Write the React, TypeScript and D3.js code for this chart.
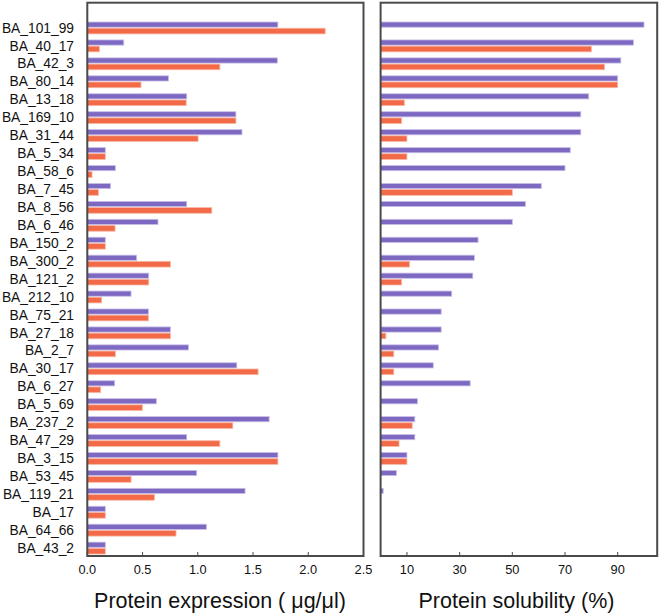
import React from "react";
import * as d3 from "d3";

const categories = [
  "BA_101_99", "BA_40_17", "BA_42_3", "BA_80_14", "BA_13_18", "BA_169_10", "BA_31_44",
  "BA_5_34", "BA_58_6", "BA_7_45", "BA_8_56", "BA_6_46", "BA_150_2", "BA_300_2",
  "BA_121_2", "BA_212_10", "BA_75_21", "BA_27_18", "BA_2_7", "BA_30_17", "BA_6_27",
  "BA_5_69", "BA_237_2", "BA_47_29", "BA_3_15", "BA_53_45", "BA_119_21", "BA_17",
  "BA_64_66", "BA_43_2",
];

// Protein expression (µg/µl)
const expressionPurple = [
  1.725, 0.33, 1.72, 0.735, 0.9, 1.345, 1.4, 0.163, 0.254, 0.21, 0.9, 0.64, 0.163, 0.447,
  0.556, 0.396, 0.553, 0.752, 0.915, 1.353, 0.248, 0.625, 1.646, 0.9, 1.725, 0.99, 1.428,
  0.163, 1.078, 0.163,
];
const expressionOrange = [
  2.153, 0.109, 1.2, 0.486, 0.895, 1.345, 1.003, 0.163, 0.043, 0.1, 1.127, 0.251, 0.163, 0.752,
  0.556, 0.13, 0.553, 0.752, 0.254, 1.546, 0.121, 0.498, 1.317, 1.2, 1.725, 0.396, 0.607,
  0.163, 0.803, 0.163,
];

// Protein solubility (%)
const solubilityPurple = [
  100, 96, 91.2, 90, 79, 76, 76, 72, 70, 61, 55, 50, 37, 35.6, 35, 27, 23, 23, 22, 20, 34,
  14, 13, 13, 10, 6, 1, 0, 0, 0,
];
const solubilityOrange = [
  0, 80, 85, 90, 9, 8, 10, 10, 0, 50, 0, 0, 0, 11, 8, 0, 0, 2, 5, 5, 0, 0, 12, 7, 10, 0, 0,
  0, 0, 0,
];

const expressionTicks = [0, 0.5, 1.0, 1.5, 2.0, 2.5];
const solubilityTicks = [10, 30, 50, 70, 90];

const PURPLE = "#7e69c2";
const PURPLE_EDGE = "#c9bfe8";
const ORANGE = "#f26a47";
const ORANGE_EDGE = "#f8b8a6";
const FRAME = "#4a4a4a";
const FONT = "'Liberation Sans', Arial, sans-serif";

const TOP = 2.7;
const BOTTOM = 556;

const y = d3.scaleLinear().domain([-1.4, categories.length - 0.55]).range([TOP, BOTTOM]);

const xLeft = d3.scaleLinear().domain([0, 2.5]).range([87.3, 363.5]);
const xRight = d3.scaleLinear().domain([0, 105]).range([380.6, 657.2]);

function Panel({
  x,
  purple,
  orange,
  ticks,
  fmt,
  label,
  labelX,
}: {
  x: d3.ScaleLinear<number, number>;
  purple: number[];
  orange: number[];
  ticks: number[];
  fmt: (v: number) => string;
  label: string;
  labelX: number;
}) {
  const [x0, x1] = x.range();
  const barH = 5.2;
  return (
    <g>
      {categories.map((c, i) => {
        const cy = y(i);
        return (
          <g key={c}>
            {purple[i] > 0 && (
              <rect
                x={x(0)}
                y={cy - 0.6 - barH}
                width={x(purple[i]) - x(0)}
                height={barH}
                fill={PURPLE}
                stroke={PURPLE_EDGE}
                strokeWidth={0.8}
              />
            )}
            {orange[i] > 0 && (
              <rect
                x={x(0)}
                y={cy + 0.4}
                width={x(orange[i]) - x(0)}
                height={barH + 0.5}
                fill={ORANGE}
                stroke={ORANGE_EDGE}
                strokeWidth={0.8}
              />
            )}
          </g>
        );
      })}
      <rect
        x={x0}
        y={TOP}
        width={x1 - x0}
        height={BOTTOM - TOP}
        fill="none"
        stroke={FRAME}
        strokeWidth={2}
      />
      {ticks.map((t) => (
        <g key={t}>
          <line x1={x(t)} x2={x(t)} y1={BOTTOM} y2={BOTTOM - 4} stroke={FRAME} strokeWidth={1} />
          <text
            x={x(t)}
            y={BOTTOM + 17.5}
            textAnchor="middle"
            fontFamily={FONT}
            fontSize={12.8}
            fill="#111"
          >
            {fmt(t)}
          </text>
        </g>
      ))}
      <text
        x={labelX}
        y={608}
        textAnchor="middle"
        fontFamily={FONT}
        fontSize={21.5}
        fill="#111"
      >
        {label}
      </text>
    </g>
  );
}

export default function App() {
  return (
    <svg
      width={660}
      height={616}
      style={{ position: "absolute", left: 0, top: 0, background: "#fff" }}
    >
      <rect width={660} height={616} fill="#fff" />
      {categories.map((c, i) => (
        <text
          key={c}
          x={74}
          y={y(i) + 4.8}
          textAnchor="end"
          fontFamily={FONT}
          fontSize={13.8}
          fill="#111"
        >
          {c}
        </text>
      ))}
      <Panel
        x={xLeft}
        purple={expressionPurple}
        orange={expressionOrange}
        ticks={expressionTicks}
        fmt={d3.format(".1f")}
        label="Protein expression ( μg/μl)"
        labelX={220}
      />
      <Panel
        x={xRight}
        purple={solubilityPurple}
        orange={solubilityOrange}
        ticks={solubilityTicks}
        fmt={d3.format("d")}
        label="Protein solubility (%)"
        labelX={516.5}
      />
    </svg>
  );
}
